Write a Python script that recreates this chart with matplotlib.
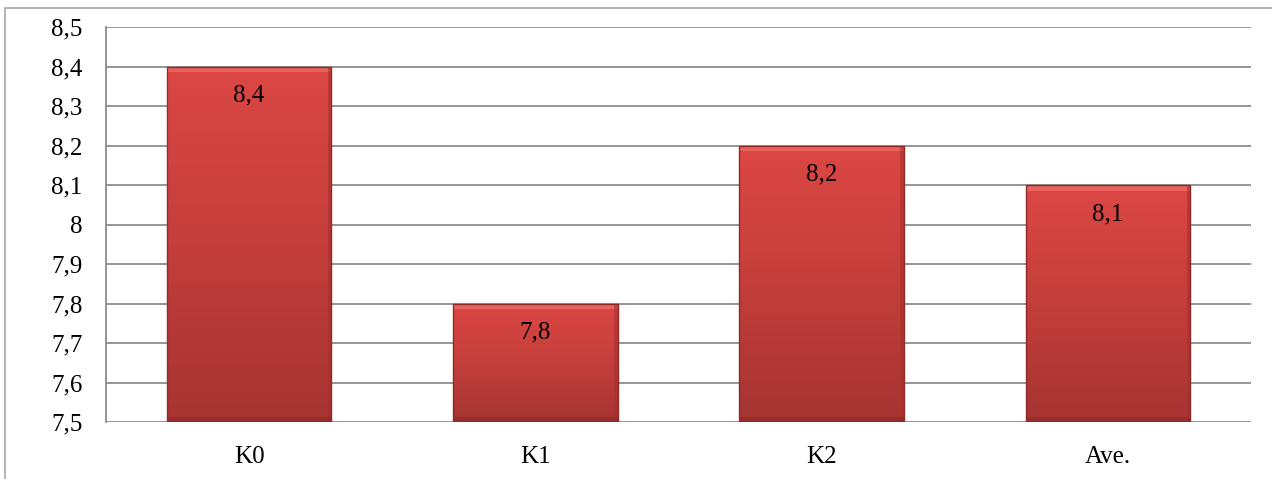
import numpy as np
import matplotlib
matplotlib.use("Agg")
import matplotlib.pyplot as plt
from matplotlib.colors import LinearSegmentedColormap
from matplotlib.patches import Rectangle
from matplotlib.ticker import FuncFormatter, MultipleLocator

categories = ["K0", "K1", "K2", "Ave."]
values = [8.4, 7.8, 8.2, 8.1]
Y_MIN, Y_MAX = 7.5, 8.5

plt.rcParams['font.family'] = ['Liberation Serif', 'DejaVu Serif']

fig = plt.figure(figsize=(12.72, 4.79), dpi=100)
ax = fig.add_axes([0.0833, 0.119, 0.9002, 0.8246])

# outer chart-area border (only left/top visible in the original crop)
fig.patches.append(Rectangle((5 / 1272, -0.1), 1.2, 1.1 - 8 / 479,
                             transform=fig.transFigure, fill=False,
                             edgecolor="#a6a6a6", linewidth=1.2))

x = np.arange(len(categories))
bars = ax.bar(x, [v - Y_MIN for v in values], bottom=Y_MIN, width=0.575,
              color="#c83c3a", edgecolor="none", zorder=3)

grad = LinearSegmentedColormap.from_list("redgrad", ["#a53431", "#c43e3b", "#dc4744"])
g = np.linspace(0, 1, 256).reshape(-1, 1)
for b in bars:
    x0, w = b.get_x(), b.get_width()
    y0, h = b.get_y(), b.get_height()
    im = ax.imshow(g, cmap=grad, origin="lower", aspect="auto",
                   extent=(x0, x0 + w, y0, y0 + h), zorder=3)
    im.set_clip_path(b)
    # soft bevel: lighter top edge, darker sides/bottom
    ax.add_patch(Rectangle((x0, y0 + h - 0.014), w, 0.014, facecolor="#ea625e",
                           edgecolor="none", zorder=4))
    ax.add_patch(Rectangle((x0 + w - 0.012, y0), 0.012, h, facecolor="#a8302e",
                           edgecolor="none", alpha=0.6, zorder=4))
    ax.add_patch(Rectangle((x0, y0), w, 0.012, facecolor="#8e2826",
                           edgecolor="none", alpha=0.6, zorder=4))
    ax.add_patch(Rectangle((x0, y0), w, h, fill=False, edgecolor="#8e2a28",
                           linewidth=1.0, zorder=5))
    ax.annotate(f"{y0 + h:g}".replace(".", ","), (x0 + w / 2, y0 + h),
                xytext=(0, -13), textcoords="offset points", ha="center", va="top",
                fontsize=18, color="black", zorder=6)

ax.set_xlim(-0.5, len(categories) - 0.5)
ax.set_ylim(Y_MIN, Y_MAX)
ax.set_xticks(x)
ax.set_xticklabels(categories)
ax.yaxis.set_major_locator(MultipleLocator(0.1))
ax.yaxis.set_major_formatter(FuncFormatter(lambda v, p: f"{round(v, 1):g}".replace(".", ",")))
ax.tick_params(axis="both", length=0, labelsize=18)
ax.tick_params(axis="y", pad=17)
ax.tick_params(axis="x", pad=17)

ax.grid(axis="y", color="#8c8c8c", linewidth=1.3, zorder=0)
ax.set_axisbelow(True)
for s in ["top", "right", "bottom"]:
    ax.spines[s].set_visible(False)
ax.spines["left"].set_color("#8c8c8c")
ax.spines["left"].set_linewidth(1.3)

plt.savefig("out.png", dpi=100)
